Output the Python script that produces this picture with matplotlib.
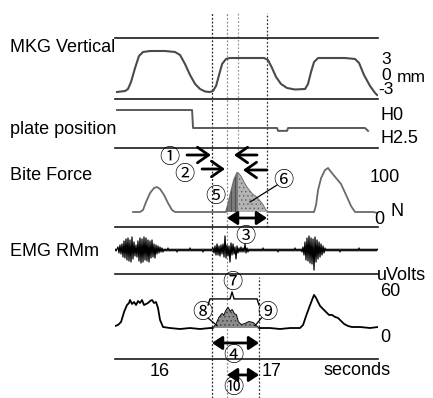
import numpy as np
import matplotlib
matplotlib.use('Agg')
import matplotlib.pyplot as plt
from matplotlib.transforms import blended_transform_factory as btf

plt.rcParams['font.family'] = ['Liberation Sans', 'DejaVu Sans']
plt.rcParams['hatch.linewidth'] = 0.5
CIRC = ['Noto Sans CJK JP', 'DejaVu Sans']

W, H = 433, 398

# ---------------- data ----------------
t_min, t_max = 15.598, 17.946
time_ticks = [16, 17]
time_tick_labels = ['16', '17']

mkg_t = [15.616, 15.688, 15.714, 15.741, 15.777, 15.812, 15.848, 15.911, 16.045, 16.134,
         16.179, 16.223, 16.268, 16.313, 16.357, 16.402, 16.446, 16.473, 16.500, 16.527,
         16.554, 16.589, 16.625, 16.804, 16.929, 16.964, 17.000, 17.036, 17.080, 17.134,
         17.205, 17.295, 17.321, 17.348, 17.375, 17.411, 17.518, 17.652, 17.741, 17.777,
         17.821, 17.875, 17.920, 17.938]
mkg_mm = [-3.4, -3.2, -2.8, -1.4, 1.4, 3.8, 4.6, 4.8, 4.8, 4.6,
          4.0, 2.2, 0.0, -1.8, -2.8, -3.3, -3.4, -3.2, -2.2, 0.0,
          2.2, 3.2, 3.4, 3.4, 3.4, 3.0, 1.4, -0.4, -1.8, -2.6,
          -2.9, -2.8, -1.8, 0.6, 2.6, 3.4, 3.4, 3.4, 3.2, 2.4,
          0.0, -2.2, -3.6, -4.0]
mkg_ticks = [3, 0, -3]

plate_t = [15.616, 16.286, 16.295, 17.045, 17.054, 17.134, 17.143, 17.830, 17.857]
plate_h = [0, 0, 2.5, 2.5, 2.9, 2.9, 2.5, 2.5, 2.9]
plate_labels = ['H0', 'H2.5']

bite_t = [15.759, 15.821, 15.848, 15.875, 15.911, 15.946, 15.973, 16.000, 16.036, 16.071,
          16.107, 16.134, 16.268, 16.446, 16.589, 16.607, 16.634, 16.661, 16.688, 16.696,
          16.723, 16.750, 16.777, 16.821, 16.866, 16.911, 16.946, 16.964, 17.161, 17.375,
          17.393, 17.411, 17.438, 17.473, 17.500, 17.527, 17.571, 17.616, 17.661, 17.705,
          17.741, 17.830, 17.902, 17.946]
bite_N = [15, 15, 20, 40, 62.5, 75, 77.5, 72.5, 57.5, 37.5,
          20, 15, 15, 15, 15, 32.5, 65, 95, 112.5, 112.5,
          102.5, 87.5, 75, 60, 50, 35, 17.5, 15, 15, 15,
          32.5, 70, 100, 120, 125, 115, 100, 85, 57.5, 30,
          15, 15, 15, 12.5]
bite_ticks = [100, 0]

emg_t0 = 15.589
emg_dt = 1 / 112
emg_uv = [0, 1, -1, 1,
          3, -3, 5, -4, 6, -7, 9, -8, 11, -10,
          12, -11, 10, -12, 13, -9, 8, -6, 5, -7,
          9, -11, 12, -13, 11, -12, 13, -10, 12, -11,
          10, -12, 9, -8, 10, -7, 6, -8, 5, -4,
          4, -3, 3, -2, 2, -2,
          1, -1, 1, -1, 2, -1, 1, -1, 1, -1,
          1, -1, 1, -2, 1, -1, 1, -1, 1, -1,
          1, -1, 1, -1, 1, -1, 2, -1, 1, -1,
          1, -1, 1, -1, 1, -1, 1, -1, 1, -2,
          1, -1, 1, -1, 1, -1, 1, -1, 1,
          2, -3, 4, -5, 6, -5, 4, -6, 5, -4,
          6, -7, 14, -8, 5, -6, 4, -12, 7, -5,
          6, -4, 3, -9, 4, -3, 2, -2, 3, -2,
          2, -2, 6, -3, 2, -2, 1, -1,
          1, -1, 1, -1, 1, -1, 1, -1, 1, -1,
          1, -1, 2, -1, 1, -1, 1, -1, 1, -1,
          1, -1, 1, -1, 1, -1, 1, -2, 1, -1,
          1, -1, 1, -1, 1, -1, 1, -1, 1, -1,
          1, -1, 1, -1, 2, -1, 1, -1, 1, -1, 1, -2,
          3, -5, 8, -10, 12, -11, 14, -13, 12, -14,
          11, -20, 13, -12, 10, -9, 8, -7, 6, -5,
          4, -3, 2,
          -1, 1, -1, 1, -1, 1, -1, 1, -1, 1,
          -1, 1, -1, 1, -2, 1, -1, 1, -1, 1,
          -1, 1, -1, 1, -1, 1, -1, 1, -1, 1,
          -1, 1, -1, 2, -1, 1, -1, 1, -1, 1,
          -1, 1, -1, 1, -1, 1, -1, 1, -1, 1, -1, 1, 0]

rms_t = [15.598, 15.625, 15.652, 15.679, 15.705, 15.723, 15.732, 15.750, 15.768, 15.786,
         15.804, 15.821, 15.839, 15.857, 15.875, 15.893, 15.911, 15.929, 15.946, 15.964,
         15.982, 16.000, 16.027, 16.089, 16.179, 16.268, 16.357, 16.446, 16.473, 16.500,
         16.527, 16.554, 16.571, 16.589, 16.607, 16.625, 16.643, 16.661, 16.679, 16.696,
         16.723, 16.759, 16.795, 16.830, 16.857, 16.884, 16.982, 17.071, 17.161, 17.250,
         17.277, 17.304, 17.330, 17.357, 17.375, 17.393, 17.411, 17.429, 17.455, 17.482,
         17.509, 17.536, 17.563, 17.589, 17.616, 17.643, 17.679, 17.714, 17.786, 17.875,
         17.946]
rms_uv = [15.6, 17.0, 20.9, 33.9, 43.0, 45.6, 49.5, 44.3, 46.9, 43.0,
          48.2, 45.6, 49.5, 43.0, 44.3, 45.6, 48.2, 49.5, 45.6, 46.9,
          39.1, 23.5, 14.3, 13.0, 11.7, 13.0, 11.7, 13.0, 13.0, 17.0,
          26.1, 31.3, 28.7, 35.2, 39.1, 33.9, 36.5, 31.3, 30.0, 20.9,
          17.0, 18.3, 20.9, 19.6, 15.6, 13.0, 13.0, 11.7, 13.0, 13.0,
          17.0, 28.7, 39.1, 49.5, 56.1, 52.2, 46.9, 41.7, 37.8, 33.9,
          30.0, 30.0, 27.4, 26.1, 22.2, 18.3, 15.6, 14.3, 14.3, 13.0,
          14.3]
rms_ticks = [60, 0]
rms_baseline = 13.0

# event markers (s)
event_times = [16.464, 16.598, 16.696, 16.955, 16.884]

# ---------------- layout ----------------
fig = plt.figure(figsize=(W / 100, H / 100), dpi=100)
fig.patch.set_facecolor('white')
L, R = 115 / W, 378 / W
bounds = [38, 99, 148, 227, 274, 359]


def panel_axes(top, bot):
    ax = fig.add_axes([L, 1 - bot / H, R - L, (bot - top) / H])
    ax.set_facecolor('none')
    ax.set_xlim(t_min, t_max)
    for s in ['left', 'right', 'bottom']:
        ax.spines[s].set_visible(False)
    ax.spines['top'].set_linewidth(1.2)
    ax.spines['top'].set_color('#1a1a1a')
    ax.set_xticks([])
    ax.set_yticks([])
    return ax


# overlay for event lines
ov = fig.add_axes([L, 0, R - L, 1])
ov.set_xlim(t_min, t_max)
ov.set_ylim(0, 1)
ov.axis('off')
ev_spans = [(13, 398), (13, 398), (13, 150), (13, 227), (277, 398)]
ev_cols = ['#222222', '#8a8a8a', '#9a9a9a', '#333333', '#333333']
for tt, (a, b), c in zip(event_times, ev_spans, ev_cols):
    ov.plot([tt, tt], [1 - b / H, 1 - a / H], color=c, lw=0.9, ls=(0, (1.5, 1.5)))

ax1 = panel_axes(bounds[0], bounds[1])
ax2 = panel_axes(bounds[1], bounds[2])
ax3 = panel_axes(bounds[2], bounds[3])
ax4 = panel_axes(bounds[3], bounds[4])
ax5 = panel_axes(bounds[4], bounds[5])
ax5.spines['bottom'].set_visible(True)
ax5.spines['bottom'].set_linewidth(1.2)
ax5.spines['bottom'].set_color('#1a1a1a')

FS = 13


def rtext(ax, xpx, y, s, fs=FS, **kw):
    ax.text(xpx / W, y, s, transform=btf(fig.transFigure, ax.transData),
            fontsize=fs, va='center', ha='left', clip_on=False, **kw)


def circ(ax, x, y, s):
    ax.text(x, y, s, family=CIRC, fontsize=14.5, ha='center', va='center',
            clip_on=False, zorder=6)


# MKG
ax1.set_ylim(-4.8, 7.4)
ax1.plot(mkg_t, mkg_mm, color='#4a4a4a', lw=1.5)
for v, xp in zip(mkg_ticks, [381, 381, 378]):
    rtext(ax1, xp, v, str(v), fs=12.5)
rtext(ax1, 397, -0.5, 'mm', fs=12.5)

# plate
ax2.set_ylim(5.28, -1.53)
ax2.plot(plate_t, plate_h, color='#5a5a5a', lw=1.4)
rtext(ax2, 380, 0.7, plate_labels[0])
rtext(ax2, 380, 3.9, plate_labels[1])

# bite force
ax3.set_ylim(-22.5, 175)
bt = np.array(bite_t)
bn = np.array(bite_N)
ax3.plot(bt, bn, color='#6a6a6a', lw=1.3)
m1 = (bt >= 16.589) & (bt <= 16.696)
m2 = (bt >= 16.696) & (bt <= 16.964)
ax3.fill_between(bt, 15, bn, where=m1, facecolor='#7a7a7a', edgecolor='#3a3a3a',
                 hatch='||||', lw=0, zorder=2)
ax3.fill_between(bt, 15, bn, where=m2, facecolor='#b4b4b4', edgecolor='#606060',
                 hatch='....', lw=0, zorder=2)
rtext(ax3, 370, 100, '100')
rtext(ax3, 374, -2.5, '0')
rtext(ax3, 390, 15, 'N')
chev = dict(arrowstyle='->,head_length=0.4,head_width=0.28', lw=2.0, color='k',
            mutation_scale=20, shrinkA=0, shrinkB=0)
for (xt, xh, y) in [(16.241, 16.455, 157.5), (16.375, 16.580, 122.5),
                    (16.866, 16.661, 157.5), (16.955, 16.741, 120)]:
    ax3.annotate('', xy=(xh, y), xytext=(xt, y), arrowprops=chev, annotation_clip=False)
dbl = dict(arrowstyle='<|-|>,head_length=0.6,head_width=0.4', lw=2.0, color='k',
           mutation_scale=10, shrinkA=0, shrinkB=0)
ax3.annotate('', xy=(16.598, 0), xytext=(16.955, 0), arrowprops=dbl, annotation_clip=False)
ax3.plot([16.804, 17.045], [40, 82.5], color='k', lw=0.9)
circ(ax3, 16.08, 152, '①')
circ(ax3, 16.22, 110, '②')
circ(ax3, 16.491, 52.5, '⑤')
circ(ax3, 17.098, 92.5, '⑥')

# EMG raw
ax4.set_ylim(-24, 23)
et = emg_t0 + np.arange(len(emg_uv)) * emg_dt
ax4.plot(et, emg_uv, color='k', lw=0.9)
circ(ax4, 16.759, 13, '③')
fig.text(377 / W, 1 - 275 / H, 'uVolts', fontsize=FS, ha='left', va='center')

# EMG RMS
ax5.set_ylim(-27.4, 83.4)
rt = np.array(rms_t)
rv = np.array(rms_uv)
ax5.plot(rt, rv, color='k', lw=1.3)
m3 = (rt >= 16.473) & (rt <= 16.884)
ax5.fill_between(rt, rms_baseline, rv, where=m3, facecolor='#8c8c8c',
                 edgecolor='#3a3a3a', hatch='....', lw=0, zorder=2)
rtext(ax5, 380, 60, '60')
rtext(ax5, 380, 0, '0')
brace_t = [16.429, 16.446, 16.625, 16.643, 16.661, 16.866, 16.884]
brace_v = [43.0, 50.9, 50.9, 60.0, 50.9, 50.9, 43.0]
ax5.plot(brace_t, brace_v, color='k', lw=1.0)
ax5.plot([16.429, 16.509], [26, 16], color='k', lw=0.9)
ax5.plot([16.905, 16.848], [26, 16], color='k', lw=0.9)
circ(ax5, 16.643, 71.7, '⑦')
circ(ax5, 16.375, 32.6, '⑧')
circ(ax5, 16.955, 32.6, '⑨')
ax5.annotate('', xy=(16.464, -6.5), xytext=(16.884, -6.5), arrowprops=dbl,
             annotation_clip=False)
circ(ax5, 16.652, -22.2, '④')
ax5.annotate('', xy=(16.598, -48.2), xytext=(16.884, -48.2), arrowprops=dbl,
             annotation_clip=False)
circ(ax5, 16.652, -64.5, '⑩')
for tt, lab in zip(time_ticks, time_tick_labels):
    ax5.text(tt, -44.3, lab, fontsize=FS, ha='center', va='center', clip_on=False)
ax5.text(17.76, -42, 'seconds', fontsize=FS, ha='center', va='center', clip_on=False)

# left labels
for s, ypx in [('MKG Vertical', 48), ('plate position', 130), ('Bite Force', 176),
               ('EMG RMm', 252)]:
    fig.text(10 / W, 1 - ypx / H, s, fontsize=FS, ha='left', va='center')

fig.savefig('out.png', dpi=100, facecolor='white')
